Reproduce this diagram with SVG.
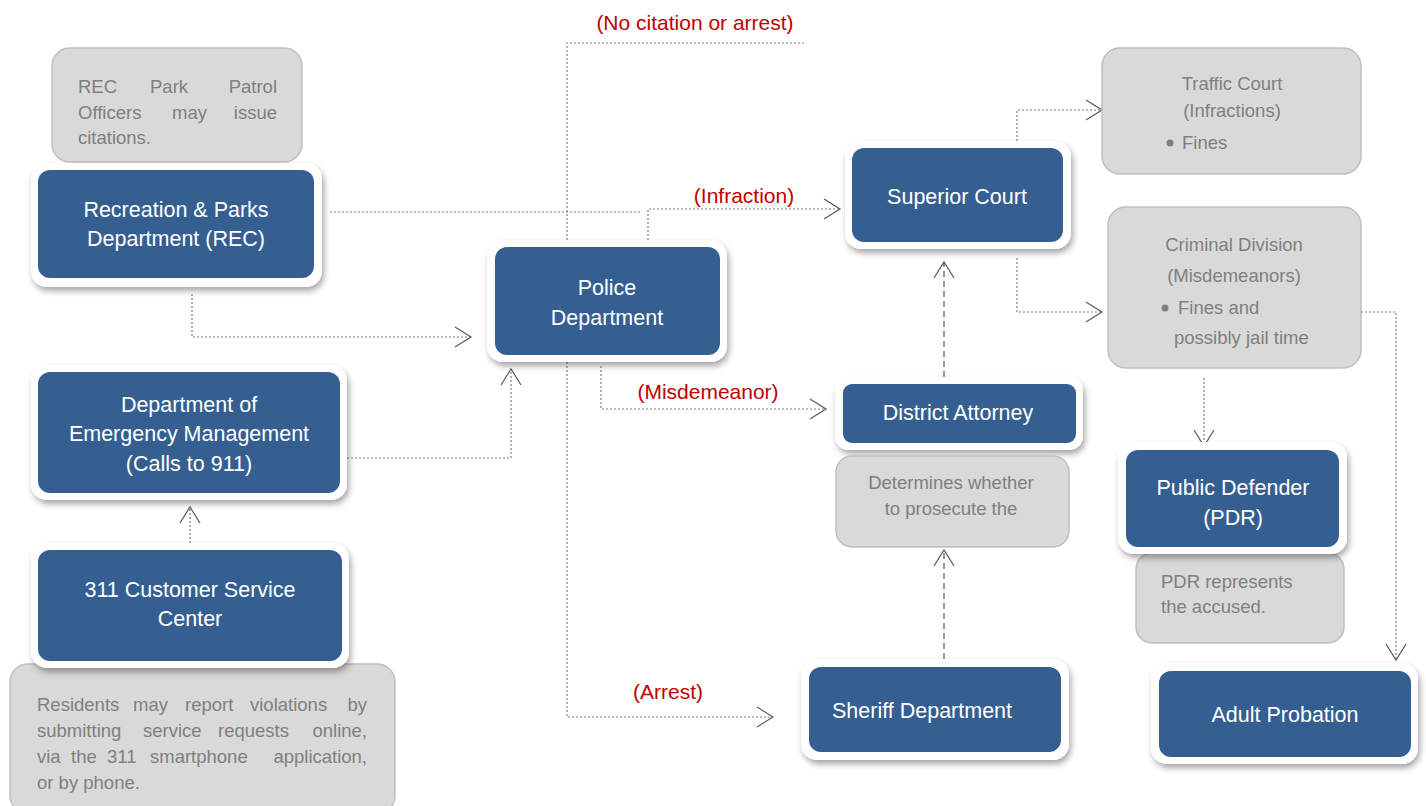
<svg xmlns="http://www.w3.org/2000/svg" width="1426" height="806" viewBox="0 0 1426 806">
<defs>
<filter id="sh" x="-10%" y="-10%" width="125%" height="135%">
<feDropShadow dx="2" dy="4" stdDeviation="3" flood-color="#000" flood-opacity="0.35"/>
</filter>
<marker id="ch" markerUnits="userSpaceOnUse" markerWidth="40" markerHeight="40" viewBox="-20 -20 40 40" refX="0" refY="0" orient="auto" overflow="visible">
<path d="M-16,-10 L0,0 L-16,10" fill="none" stroke="#595959" stroke-width="1.2"/>
</marker>
<style>
.outer{fill:#fff;filter:url(#sh)}
.blue{fill:#365f91}
.note{fill:#d9d9d9;stroke:#bfbfbf;stroke-width:1.5}
.bt{font-family:"Liberation Sans",Arial,sans-serif;font-size:21.5px;fill:#fff;text-anchor:middle}
.bts{font-family:"Liberation Sans",Arial,sans-serif;font-size:21.5px;fill:#fff;text-anchor:start}
.nt{font-family:"Liberation Sans",Arial,sans-serif;font-size:18.5px;fill:#7f7f7f}
.rt{font-family:"Liberation Sans",Arial,sans-serif;font-size:21px;fill:#c00000;text-anchor:middle}
.dot{fill:none;stroke:#808080;stroke-width:1.2;stroke-dasharray:2 2}
.dash{fill:none;stroke:#7f7f7f;stroke-width:1.6;stroke-dasharray:6 4}
.arr{marker-end:url(#ch)}
</style>
</defs>
<rect width="1426" height="806" fill="#fff"/>

<g id="connectors">
<path class="dot arr" d="M192 294 V337 H471"/>
<path class="dot" d="M330 212 H641"/>
<path class="dot" d="M567 240 V43 H804"/>
<path class="dot arr" d="M648 240 V209 H840"/>
<path class="dot arr" d="M347 458 H511 V369"/>
<path class="dot arr" d="M190 543 V507"/>
<path class="dot arr" d="M601 366 V409 H826"/>
<path class="dot arr" d="M567 362 V717 H773"/>
<path class="dot arr" d="M1017 141 V110 H1102"/>
<path class="dot arr" d="M1017 258 V312 H1102"/>
<path class="dot arr" d="M1204 378 V446"/>
<path class="dot arr" d="M1361 312 H1396 V660"/>
<path class="dash arr" d="M944 377 V262"/>
<path class="dash arr" d="M944 659 V550"/>
</g>

<g id="labels">
<text class="rt" x="695" y="30">(No citation or arrest)</text>
<text class="rt" x="744" y="203">(Infraction)</text>
<text class="rt" x="708" y="399">(Misdemeanor)</text>
<text class="rt" x="668" y="699">(Arrest)</text>
</g>

<g id="rec-note">
<rect class="note" x="52" y="48" width="250" height="114" rx="18"/>
<text class="nt" y="93"><tspan x="78">REC</tspan><tspan x="150">Park</tspan><tspan x="277" text-anchor="end">Patrol</tspan></text>
<text class="nt" y="119"><tspan x="78">Officers</tspan><tspan x="172">may</tspan><tspan x="277" text-anchor="end">issue</tspan></text>
<text class="nt" x="78" y="144">citations.</text>
</g>

<g id="rec">
<rect class="outer" x="31" y="163" width="291" height="124" rx="16"/>
<rect class="blue" x="38" y="170" width="276" height="108" rx="12"/>
<text class="bt" x="176" y="217">Recreation &amp; Parks</text>
<text class="bt" x="176" y="246">Department (REC)</text>
</g>

<g id="police">
<rect class="outer" x="487" y="240" width="240" height="122" rx="16"/>
<rect class="blue" x="495" y="247" width="225" height="108" rx="12"/>
<text class="bt" x="607" y="295">Police</text>
<text class="bt" x="607" y="325">Department</text>
</g>

<g id="dem">
<rect class="outer" x="31" y="365" width="316" height="135" rx="16"/>
<rect class="blue" x="38" y="372" width="302" height="121" rx="12"/>
<text class="bt" x="189" y="412">Department of</text>
<text class="bt" x="189" y="441">Emergency Management</text>
<text class="bt" x="189" y="471">(Calls to 911)</text>
</g>

<g id="residents-note">
<rect class="note" x="10" y="664" width="385" height="150" rx="18"/>
<text class="nt" y="711"><tspan x="37">Residents</tspan><tspan x="133">may</tspan><tspan x="185">report</tspan><tspan x="250">violations</tspan><tspan x="367" text-anchor="end">by</tspan></text>
<text class="nt" y="737"><tspan x="37">submitting</tspan><tspan x="143">service</tspan><tspan x="218">requests</tspan><tspan x="367" text-anchor="end">online,</tspan></text>
<text class="nt" y="763"><tspan x="37">via</tspan><tspan x="71">the</tspan><tspan x="107">311</tspan><tspan x="150">smartphone</tspan><tspan x="367" text-anchor="end">application,</tspan></text>
<text class="nt" x="37" y="789">or by phone.</text>
</g>

<g id="c311">
<rect class="outer" x="31" y="543" width="318" height="125" rx="16"/>
<rect class="blue" x="38" y="550" width="304" height="111" rx="12"/>
<text class="bt" x="190" y="597">311 Customer Service</text>
<text class="bt" x="190" y="626">Center</text>
</g>

<g id="superior">
<rect class="outer" x="845" y="141" width="226" height="108" rx="16"/>
<rect class="blue" x="852" y="148" width="211" height="94" rx="12"/>
<text class="bt" x="957" y="204">Superior Court</text>
</g>

<g id="traffic">
<rect class="note" x="1102" y="48" width="259" height="126" rx="18"/>
<text class="nt" x="1232" y="90" text-anchor="middle">Traffic Court</text>
<text class="nt" x="1232" y="117" text-anchor="middle">(Infractions)</text>
<circle cx="1170" cy="143" r="3.5" fill="#7f7f7f"/>
<text class="nt" x="1182" y="149">Fines</text>
</g>

<g id="criminal">
<rect class="note" x="1108" y="207" width="253" height="161" rx="18"/>
<text class="nt" x="1234" y="251" text-anchor="middle">Criminal Division</text>
<text class="nt" x="1234" y="282" text-anchor="middle">(Misdemeanors)</text>
<circle cx="1165" cy="308" r="3.5" fill="#7f7f7f"/>
<text class="nt" x="1178" y="314">Fines and</text>
<text class="nt" x="1174" y="344">possibly jail time</text>
</g>

<g id="da">
<rect class="outer" x="835" y="377" width="248" height="73" rx="14"/>
<rect class="blue" x="843" y="384" width="233" height="59" rx="9"/>
<text class="bt" x="958" y="420">District Attorney</text>
</g>

<g id="da-note">
<rect class="note" x="836" y="456" width="233" height="91" rx="16"/>
<text class="nt" x="951" y="489" text-anchor="middle">Determines whether</text>
<text class="nt" x="951" y="515" text-anchor="middle">to prosecute the</text>
</g>

<g id="sheriff">
<rect class="outer" x="801" y="659" width="268" height="101" rx="16"/>
<rect class="blue" x="809" y="667" width="252" height="85" rx="12"/>
<text class="bts" x="832" y="718">Sheriff Department</text>
</g>

<g id="pdr-note">
<rect class="note" x="1136" y="553" width="208" height="90" rx="16"/>
<text class="nt" x="1161" y="588">PDR represents</text>
<text class="nt" x="1161" y="613">the accused.</text>
</g>

<g id="pdr">
<rect class="outer" x="1118" y="442" width="229" height="112" rx="16"/>
<rect class="blue" x="1126" y="450" width="213" height="97" rx="12"/>
<text class="bt" x="1233" y="495">Public Defender</text>
<text class="bt" x="1233" y="525">(PDR)</text>
</g>

<g id="adult-probation">
<rect class="outer" x="1151" y="663" width="267" height="101" rx="16"/>
<rect class="blue" x="1159" y="671" width="252" height="86" rx="12"/>
<text class="bt" x="1285" y="722">Adult Probation</text>
</g>
</svg>
